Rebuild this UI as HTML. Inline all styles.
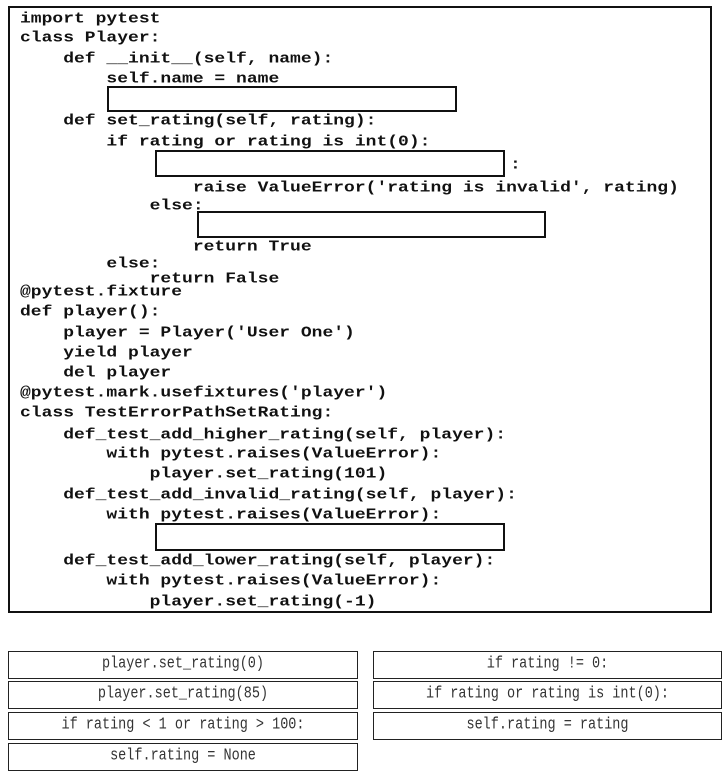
<!DOCTYPE html>
<html><head><meta charset="utf-8"><style>
body{margin:0;width:728px;height:771px;background:#fff;position:relative;overflow:hidden}
.main{position:absolute;left:8px;top:6px;width:700px;height:603px;border:2.5px solid #111;}
.l{position:absolute;font-family:"Liberation Mono",monospace;font-weight:bold;font-size:18px;line-height:20px;white-space:pre;color:#111;transform:scaleY(0.82);transform-origin:left center;margin-top:3px}
.b{position:absolute;border:2px solid #111;background:#fff;box-sizing:border-box}
.o{position:absolute;border:1.5px solid #222;box-sizing:border-box;height:28px;font-family:"Liberation Mono",monospace;font-size:13.5px;color:#333;text-align:center;line-height:26px;white-space:pre}
.o span{display:inline-block;transform:scaleY(1.25)}
</style></head><body>
<div class="main"></div>
<div class="l" style="left:20px;top:6px">import pytest</div>
<div class="l" style="left:20px;top:25px">class Player:</div>
<div class="l" style="left:20px;top:46px">    def __init__(self, name):</div>
<div class="l" style="left:20px;top:66px">        self.name = name</div>
<div class="b" style="left:107px;top:86px;width:350px;height:26px"></div>
<div class="l" style="left:20px;top:108px">    def set_rating(self, rating):</div>
<div class="l" style="left:20px;top:129px">        if rating or rating is int(0):</div>
<div class="b" style="left:155px;top:150px;width:350px;height:27px"></div>
<div class="l" style="left:510px;top:152px">:</div>
<div class="l" style="left:20px;top:175px">                raise ValueError('rating is invalid', rating)</div>
<div class="l" style="left:20px;top:193px">            else:</div>
<div class="b" style="left:197px;top:211px;width:349px;height:27px"></div>
<div class="l" style="left:20px;top:234px">                return True</div>
<div class="l" style="left:20px;top:251px">        else:</div>
<div class="l" style="left:20px;top:266px">            return False</div>
<div class="l" style="left:20px;top:279px">@pytest.fixture</div>
<div class="l" style="left:20px;top:299px">def player():</div>
<div class="l" style="left:20px;top:320px">    player = Player('User One')</div>
<div class="l" style="left:20px;top:340px">    yield player</div>
<div class="l" style="left:20px;top:360px">    del player</div>
<div class="l" style="left:20px;top:380px">@pytest.mark.usefixtures('player')</div>
<div class="l" style="left:20px;top:400px">class TestErrorPathSetRating:</div>
<div class="l" style="left:20px;top:422px">    def_test_add_higher_rating(self, player):</div>
<div class="l" style="left:20px;top:441px">        with pytest.raises(ValueError):</div>
<div class="l" style="left:20px;top:461px">            player.set_rating(101)</div>
<div class="l" style="left:20px;top:482px">    def_test_add_invalid_rating(self, player):</div>
<div class="l" style="left:20px;top:502px">        with pytest.raises(ValueError):</div>
<div class="b" style="left:155px;top:523px;width:350px;height:28px"></div>
<div class="l" style="left:20px;top:548px">    def_test_add_lower_rating(self, player):</div>
<div class="l" style="left:20px;top:568px">        with pytest.raises(ValueError):</div>
<div class="l" style="left:20px;top:589px">            player.set_rating(-1)</div>

<div class="o" style="left:8px;top:651px;width:350px"><span>player.set_rating(0)</span></div>
<div class="o" style="left:8px;top:681px;width:350px"><span>player.set_rating(85)</span></div>
<div class="o" style="left:8px;top:712px;width:350px"><span>if rating &lt; 1 or rating &gt; 100:</span></div>
<div class="o" style="left:8px;top:743px;width:350px"><span>self.rating = None</span></div>
<div class="o" style="left:373px;top:651px;width:349px"><span>if rating != 0:</span></div>
<div class="o" style="left:373px;top:681px;width:349px"><span>if rating or rating is int(0):</span></div>
<div class="o" style="left:373px;top:712px;width:349px"><span>self.rating = rating</span></div>
</body></html>
